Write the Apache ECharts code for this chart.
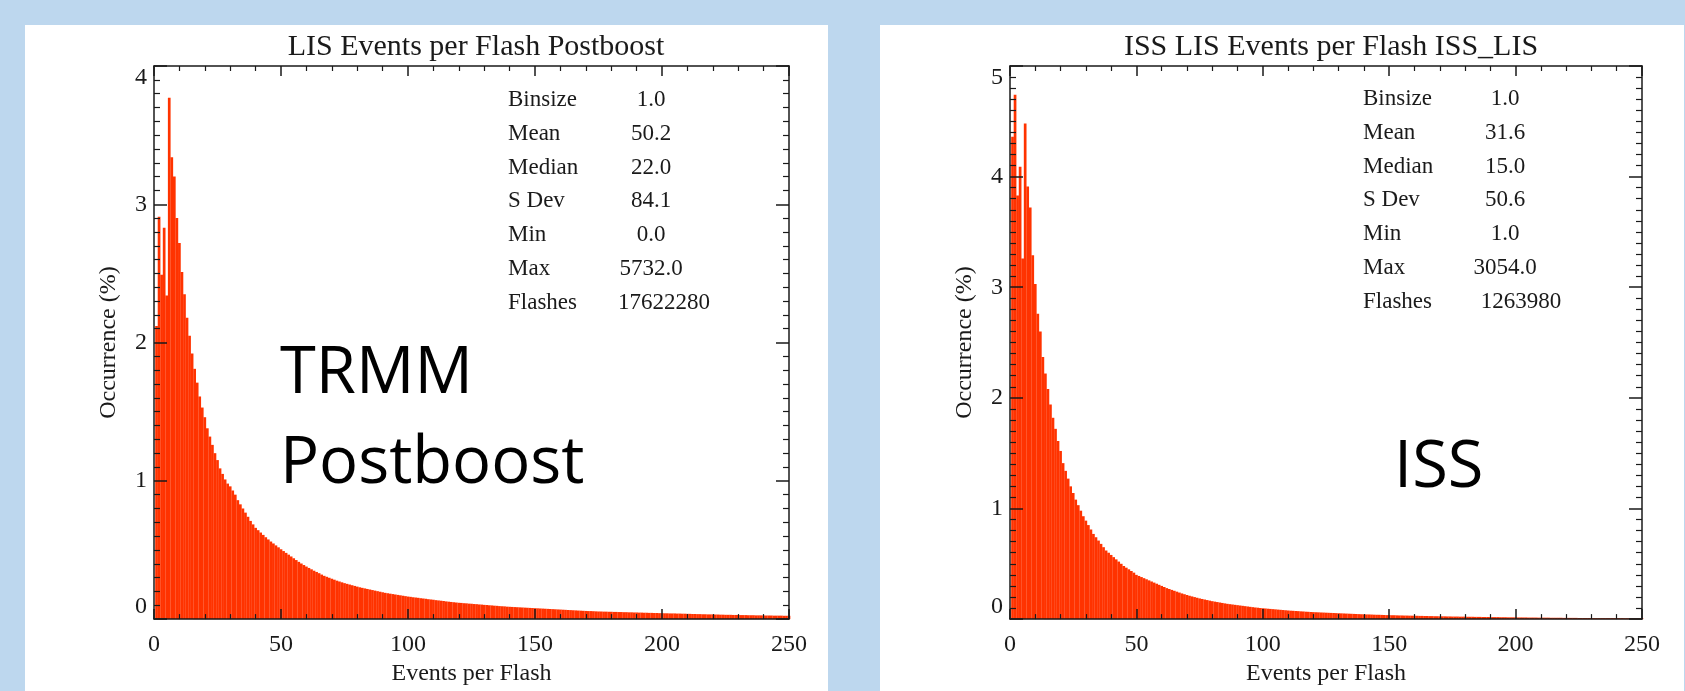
<!DOCTYPE html>
<html>
<head>
<meta charset="utf-8">
<script src="https://cdn.jsdelivr.net/npm/echarts@6/dist/echarts.min.js"></script>
<style>
  body { margin: 0; background: #BDD7EE; }
  #wrap { position: relative; width: 1685px; height: 691px; overflow: hidden; }
  .panel { position: absolute; top: 25px; bottom: 0; background: #fff; }
  #chart1 { position: absolute; left: 0; top: 0; width: 1685px; height: 691px; }
</style>
</head>
<body>
<div id="wrap">
  <div class="panel" style="left:25px;width:803px"></div>
  <div class="panel" style="left:880px;width:804px"></div>
  <div id="chart1"></div>
</div>
<script>
// histogram bins: bin k covers k-0.5 .. k+0.5 (Binsize 1.0)
var binStart = 0;
var binSize = 1;

// TRMM postboost, occurrence (%) per bin 0..250
var trmmValues = [
  0,
  2.12, 2.91, 2.49, 2.83, 2.34, 3.77, 3.34, 3.20, 2.90, 2.72,
  2.51, 2.35, 2.18, 2.05, 1.92, 1.81, 1.71, 1.61, 1.53, 1.46,
  1.38, 1.32, 1.26, 1.20, 1.15, 1.09, 1.05, 1.01, 0.98, 0.96,
  0.93, 0.90, 0.86, 0.83, 0.80, 0.77, 0.74, 0.71, 0.685, 0.66,
  0.643, 0.626, 0.609, 0.592, 0.576, 0.561, 0.547, 0.533, 0.519, 0.505,
  0.492, 0.479, 0.466, 0.453, 0.440, 0.427, 0.414, 0.402, 0.391, 0.380,
  0.370, 0.360, 0.350, 0.341, 0.332, 0.322, 0.313, 0.306, 0.299, 0.292,
  0.285, 0.278, 0.272, 0.266, 0.260, 0.255, 0.250, 0.245, 0.240, 0.235,
  0.230, 0.226, 0.222, 0.218, 0.214, 0.210, 0.206, 0.202, 0.198, 0.194,
  0.190, 0.187, 0.184, 0.181, 0.178, 0.175, 0.172, 0.169, 0.166, 0.163,
  0.161, 0.158, 0.156, 0.154, 0.151, 0.149, 0.147, 0.144, 0.142, 0.140,
  0.137, 0.135, 0.133, 0.131, 0.128, 0.126, 0.124, 0.122, 0.120, 0.118,
  0.117, 0.115, 0.114, 0.112, 0.111, 0.109, 0.108, 0.106, 0.105, 0.103,
  0.102, 0.100, 0.099, 0.097, 0.096, 0.094, 0.093, 0.092, 0.090, 0.089,
  0.088, 0.087, 0.086, 0.085, 0.084, 0.083, 0.082, 0.081, 0.080, 0.079,
  0.078, 0.077, 0.076, 0.075, 0.074, 0.073, 0.072, 0.071, 0.070, 0.069,
  0.068, 0.067, 0.066, 0.065, 0.064, 0.063, 0.062, 0.061, 0.060, 0.059,
  0.058, 0.058, 0.057, 0.056, 0.055, 0.055, 0.054, 0.054, 0.053, 0.053,
  0.052, 0.052, 0.051, 0.051, 0.050, 0.050, 0.049, 0.049, 0.048, 0.048,
  0.047, 0.047, 0.046, 0.046, 0.045, 0.045, 0.044, 0.044, 0.043, 0.043,
  0.042, 0.042, 0.041, 0.041, 0.041, 0.040, 0.040, 0.039, 0.039, 0.038,
  0.038, 0.037, 0.037, 0.036, 0.036, 0.035, 0.035, 0.034, 0.034, 0.034,
  0.033, 0.033, 0.032, 0.032, 0.031, 0.031, 0.031, 0.030, 0.030, 0.030,
  0.029, 0.029, 0.029, 0.028, 0.028, 0.028, 0.027, 0.027, 0.027, 0.026,
  0.026, 0.026, 0.026, 0.025, 0.025, 0.025, 0.025, 0.024, 0.024, 0.024
];

// ISS LIS, occurrence (%) per bin 0..250
var issValues = [
  0,
  4.36, 4.74, 3.83, 4.09, 3.26, 4.48, 3.91, 3.72, 3.29, 3.03,
  2.76, 2.60, 2.37, 2.22, 2.08, 1.94, 1.82, 1.72, 1.61, 1.52,
  1.41, 1.34, 1.27, 1.20, 1.14, 1.08, 1.03, 0.98, 0.93, 0.89,
  0.85, 0.81, 0.77, 0.74, 0.71, 0.68, 0.65, 0.62, 0.60, 0.58,
  0.56, 0.54, 0.52, 0.50, 0.48, 0.465, 0.45, 0.435, 0.42, 0.40,
  0.39, 0.38, 0.37, 0.36, 0.35, 0.34, 0.33, 0.32, 0.31, 0.30,
  0.29, 0.28, 0.272, 0.264, 0.256, 0.248, 0.240, 0.232, 0.225, 0.218,
  0.211, 0.205, 0.199, 0.193, 0.187, 0.182, 0.177, 0.172, 0.167, 0.162,
  0.158, 0.154, 0.150, 0.146, 0.142, 0.138, 0.135, 0.132, 0.129, 0.126,
  0.123, 0.120, 0.117, 0.114, 0.111, 0.108, 0.105, 0.103, 0.100, 0.098,
  0.096, 0.094, 0.092, 0.090, 0.088, 0.086, 0.084, 0.082, 0.080, 0.078,
  0.076, 0.075, 0.073, 0.072, 0.070, 0.069, 0.067, 0.066, 0.064, 0.063,
  0.062, 0.061, 0.060, 0.059, 0.058, 0.057, 0.056, 0.055, 0.054, 0.053,
  0.052, 0.051, 0.050, 0.049, 0.048, 0.047, 0.046, 0.045, 0.044, 0.043,
  0.042, 0.042, 0.041, 0.040, 0.039, 0.039, 0.038, 0.037, 0.036, 0.036,
  0.035, 0.035, 0.034, 0.033, 0.033, 0.032, 0.032, 0.031, 0.031, 0.030,
  0.030, 0.029, 0.029, 0.028, 0.028, 0.027, 0.027, 0.026, 0.026, 0.025,
  0.025, 0.025, 0.024, 0.024, 0.023, 0.023, 0.023, 0.022, 0.022, 0.022,
  0.021, 0.021, 0.021, 0.020, 0.020, 0.020, 0.019, 0.019, 0.019, 0.018,
  0.018, 0.018, 0.018, 0.017, 0.017, 0.017, 0.016, 0.016, 0.016, 0.016,
  0.015, 0.015, 0.015, 0.015, 0.014, 0.014, 0.014, 0.014, 0.013, 0.013,
  0.013, 0.013, 0.013, 0.012, 0.012, 0.012, 0.012, 0.012, 0.011, 0.011,
  0.011, 0.011, 0.011, 0.011, 0.010, 0.010, 0.010, 0.010, 0.010, 0.010,
  0.009, 0.009, 0.009, 0.009, 0.009, 0.009, 0.009, 0.009, 0.009, 0.009,
  0.009, 0.009, 0.008, 0.008, 0.008, 0.008, 0.008, 0.008, 0.008, 0.008
];

var statLabels = ['Binsize', 'Mean', 'Median', 'S Dev', 'Min', 'Max', 'Flashes'];
var trmmStats = ['1.0', '50.2', '22.0', '84.1', '0.0', '5732.0', '17622280'];
var issStats = ['1.0', '31.6', '15.0', '50.6', '1.0', '3054.0', '1263980'];

var titles = ['LIS Events per Flash Postboost', 'ISS LIS Events per Flash ISS_LIS'];
var xTicks = { min: 0, max: 250, interval: 50 };
var yMax = [4, 5];

var serif = '"Liberation Serif", "Times New Roman", serif';
var sans = '"Open Sans", "Noto Sans", sans-serif';
var ink = '#1a1a1a';

function pairs(values) {
  return values.map(function (v, i) { return [binStart + i * binSize, v]; });
}

var grids = [
  { left: 154, top: 66, width: 635, height: 556 },
  { left: 1010, top: 66, width: 632, height: 556 }
];

var tickLine = { color: ink, width: 1.5 };

function xAxisPair(g) {
  var common = {
    gridIndex: g, type: 'value', min: xTicks.min, max: xTicks.max, interval: xTicks.interval,
    z: 5,
    axisLine: { onZero: false, lineStyle: tickLine },
    axisTick: { inside: true, length: 10, lineStyle: tickLine },
    minorTick: { show: true, splitNumber: 5, length: 5, lineStyle: { color: ink, width: 1.2 } },
    splitLine: { show: false }
  };
  return [
    Object.assign({}, common, {
      position: 'bottom',
      axisLabel: { fontFamily: serif, fontSize: 24, color: ink, margin: 14 },
      name: 'Events per Flash', nameLocation: 'middle', nameGap: 42,
      nameTextStyle: { fontFamily: serif, fontSize: 24, color: ink }
    }),
    Object.assign({}, common, { position: 'top', axisLabel: { show: false } })
  ];
}

function yAxisPair(g) {
  var common = {
    gridIndex: g, type: 'value', min: 0, max: yMax[g], interval: 1,
    z: 5,
    axisLine: { onZero: false, lineStyle: tickLine },
    axisTick: { inside: true, length: 13, lineStyle: tickLine },
    minorTick: { show: true, splitNumber: 10, length: 6, lineStyle: { color: ink, width: 1.2 } },
    splitLine: { show: false }
  };
  return [
    Object.assign({}, common, {
      position: 'left',
      axisLabel: {
        fontFamily: serif, fontSize: 24, color: ink, margin: 7,
        verticalAlignMinLabel: 'bottom', verticalAlignMaxLabel: 'top'
      },
      name: 'Occurrence (%)', nameLocation: 'middle', nameGap: 33,
      nameTextStyle: { fontFamily: serif, fontSize: 24, color: ink }
    }),
    Object.assign({}, common, { position: 'right', axisLabel: { show: false } })
  ];
}

function statsText(labels, values, labelX, valueX, flashX, y0) {
  var els = [];
  labels.forEach(function (lab, i) {
    var y = y0 + i * 33.8;
    els.push({
      type: 'text', x: labelX, y: y,
      style: { text: lab, font: '23px ' + serif, fill: ink, textAlign: 'left', textVerticalAlign: 'middle' }
    });
    els.push({
      type: 'text', x: i === labels.length - 1 ? flashX : valueX, y: y,
      style: { text: values[i], font: '23px ' + serif, fill: ink, textAlign: 'center', textVerticalAlign: 'middle' }
    });
  });
  return els;
}

var bigFont = '65px ' + sans;

var chartDom = document.getElementById('chart1');
var myChart = echarts.init(chartDom);
var option;

option = {
  backgroundColor: 'transparent',
  animation: false,
  title: [
    {
      text: titles[0], left: 471, top: 27, textAlign: 'center',
      textStyle: { fontFamily: serif, fontSize: 30, fontWeight: 'normal', color: ink }
    },
    {
      text: titles[1], left: 1326, top: 27, textAlign: 'center',
      textStyle: { fontFamily: serif, fontSize: 30, fontWeight: 'normal', color: ink }
    }
  ],
  grid: grids,
  xAxis: xAxisPair(0).concat(xAxisPair(1)),
  yAxis: yAxisPair(0).concat(yAxisPair(1)),
  series: [
    {
      type: 'bar', xAxisIndex: 0, yAxisIndex: 0, z: 2,
      data: pairs(trmmValues), barWidth: 2.7,
      itemStyle: { color: '#FF3300' }
    },
    {
      type: 'bar', xAxisIndex: 2, yAxisIndex: 2, z: 2,
      data: pairs(issValues), barWidth: 2.7,
      itemStyle: { color: '#FF3300' }
    }
  ],
  graphic: statsText(statLabels, trmmStats, 508, 651, 664, 100)
    .concat(statsText(statLabels, issStats, 1363, 1505, 1521, 99))
    .concat([
      { type: 'text', x: 280, y: 374, style: { text: 'TRMM', font: bigFont, fill: '#000', textVerticalAlign: 'middle' } },
      { type: 'text', x: 280, y: 464, style: { text: 'Postboost', font: bigFont, fill: '#000', textVerticalAlign: 'middle' } },
      { type: 'text', x: 1394, y: 468, style: { text: 'ISS', font: bigFont, fill: '#000', textVerticalAlign: 'middle' } }
    ])
};

option && myChart.setOption(option);
window.onresize = function () {
  myChart.resize();
};
</script>
</body>
</html>
